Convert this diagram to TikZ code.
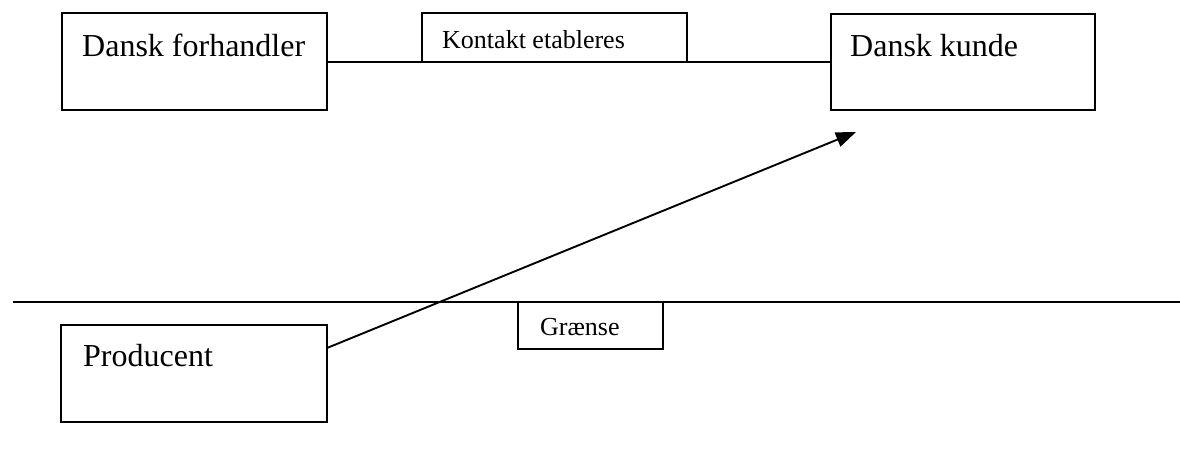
\documentclass[tikz,border=0pt]{standalone}
\usepackage{fontspec}
\setmainfont{Liberation Serif}
\usetikzlibrary{arrows.meta,calc}
\begin{document}
\begin{tikzpicture}[x=1pt,y=-1pt,
  box/.style={draw, line width=1.9pt, rectangle, inner sep=0pt, outer sep=0pt, anchor=north west},
  bigtext/.style={font=\fontsize{32}{38}\selectfont, anchor=base west, inner sep=0pt},
  smalltext/.style={font=\fontsize{26}{31}\selectfont, anchor=base west, inner sep=0pt},
  wire/.style={line width=1.9pt}]
\useasboundingbox (0,0) rectangle (1180,469);

% parties
\node[box, minimum width=265pt, minimum height=97pt] (fh) at (62,13) {};
\node[box, minimum width=264pt, minimum height=96pt] (ku) at (831,14) {};
\node[box, minimum width=266pt, minimum height=97pt] (pr) at (61,325) {};
\node[bigtext] (fhT) at (82,56) {Dansk forhandler};
\node[bigtext] (kuT) at (850,56) {Dansk kunde};
\node[bigtext] (prT) at (83,366) {Producent};

% contact between dealer and customer
\node[box, minimum width=265pt, minimum height=49pt] (kt) at (422,13) {};
\node[smalltext] (ktT) at (442,48) {Kontakt etableres};
\draw[wire] (fh.east |- kt.south) -- (ku.west |- kt.south);

% border line
\coordinate (gl) at (13,302);
\coordinate (gr) at (1180,302);
\draw[wire] (gl) -- (gr);
\node[box, minimum width=145pt, minimum height=47pt] (gb) at (518,302) {};
\node[smalltext] (grT) at (540,335) {Grænse};

% direct delivery from producer to customer
\coordinate (tip) at (856,132);
\draw[wire, -{Triangle[length=20pt,width=15pt]}]
  ($(pr.north east)!0.237!(pr.south east)$) -- (tip);
\end{tikzpicture}
\end{document}
